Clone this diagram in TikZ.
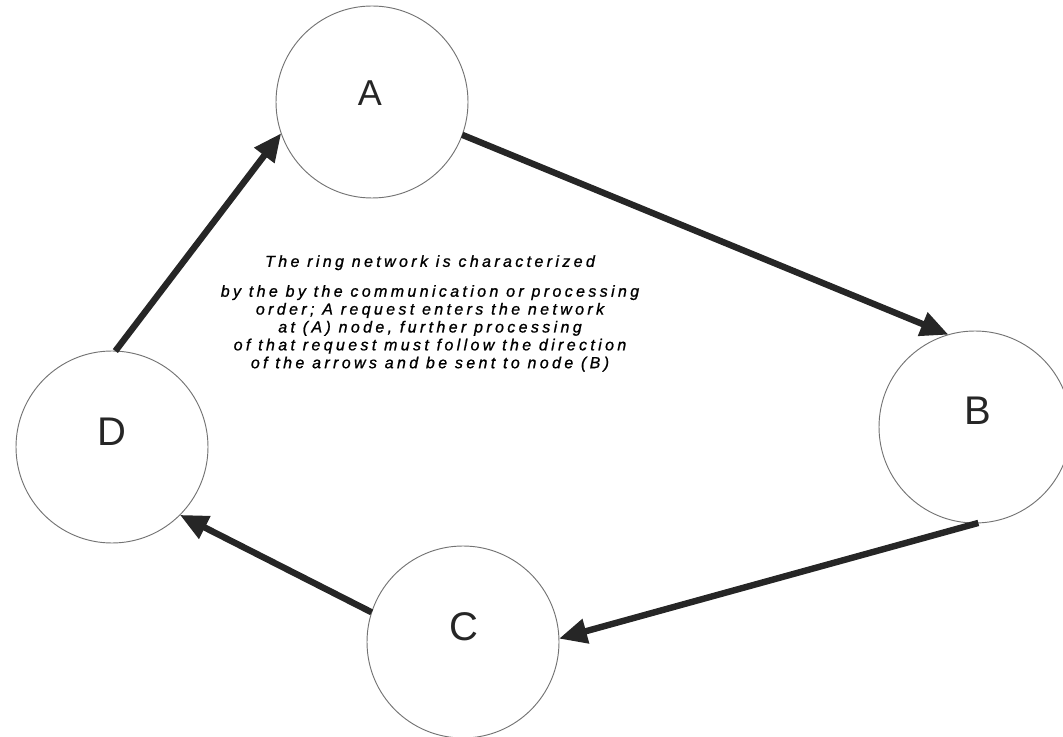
\documentclass[tikz,border=0pt]{standalone}
\usepackage{fontspec}
\setmainfont{Liberation Sans}
\newfontfamily\bodyfont[LetterSpace=21,FakeBold=1]{Liberation Sans}
\usetikzlibrary{arrows.meta}
\tikzset{
  ringnode/.style={circle, draw=black!55, line width=0.7pt, minimum size=144pt, inner sep=0pt, outer sep=0pt},
  letter/.style={font=\fontsize{30}{30}\selectfont, text=black!85},
  flow/.style={draw=black!85, line width=4.8pt, line cap=butt,
    -{Triangle[length=21pt,width=18pt]}}
}
\begin{document}
\begin{tikzpicture}[x=0.75pt,y=-0.75pt]
\useasboundingbox (0,0) rectangle (1063,737);
\node[ringnode] (A) at (372,102) {};
\node[letter, font=\fontsize{27}{27}\selectfont] (Alab) at (370,93) {A};
\node[ringnode] (B) at (975,427) {};
\node[letter] (Blab) at (978,411) {B};
\node[ringnode] (C) at (463,642) {};
\node[letter] (Clab) at (464,627) {C};
\node[ringnode] (D) at (112,447) {};
\node[letter] (Dlab) at (112,432) {D};

\draw[flow] (A.-20) -- (B.106);
\draw[flow] (B.-88) -- (C.2);
\draw[flow] (C.162) -- (D.-45);
\draw[flow] (D.88) -- (A.199);

\node[anchor=north, inner sep=0pt, align=center, text=black,
  font=\bodyfont\itshape\fontsize{12}{13.4}\selectfont] (txt) at (430,255)
  {The ring network is characterized\\[9pt]
   by the by the communication or processing\\
   order; A request enters the network\\
   at (A) node, further processing\\
   of that request must follow the direction\\
   of the arrows and be sent to node (B)};
\end{tikzpicture}
\end{document}
